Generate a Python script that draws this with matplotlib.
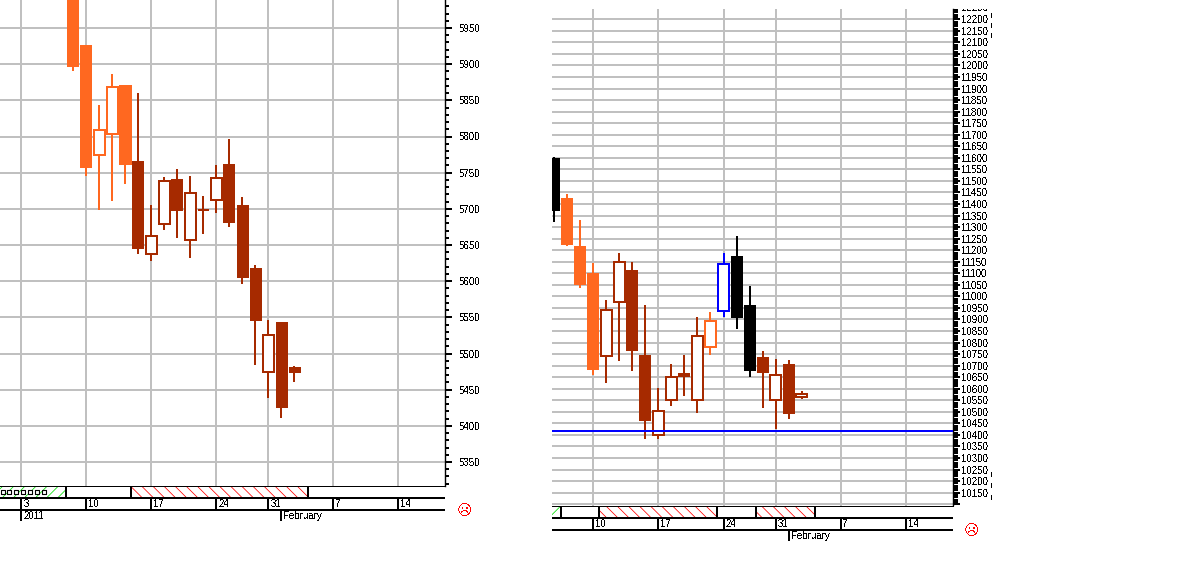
import matplotlib
matplotlib.use("Agg")
import matplotlib.pyplot as plt
from matplotlib.lines import Line2D
from matplotlib.transforms import Bbox

W, H = 1200, 575
PX = 0.72  # points per pixel at dpi 100

# ---------- data ----------
idx_a = list(range(4, 22))
open_a  = [6000, 5926, 5774, 5804, 5871, 5766, 5638, 5679, 5741, 5657, 5699, 5712, 5762, 5705, 5618, 5475, 5544, 5481]
high_a  = [6010, 5926, 5844, 5886, 5871, 5860, 5705, 5744, 5755, 5745, 5718, 5760, 5796, 5716, 5623, 5546, 5544, 5483]
low_a   = [5891, 5745, 5699, 5711, 5735, 5638, 5628, 5671, 5660, 5632, 5665, 5694, 5675, 5596, 5484, 5438, 5411, 5460]
close_a = [5896, 5757, 5809, 5869, 5761, 5645, 5663, 5739, 5697, 5722, 5699, 5743, 5681, 5605, 5545, 5525, 5424, 5473]
tone_a  = ["o"] * 5 + ["d"] * 13

idx_b = list(range(2, 22))
open_b  = [11598, 11426, 11218, 11101, 10740, 10974, 11114, 10746, 10400, 10551, 10667, 10551, 10779, 10937, 11175, 10963, 10737, 10551, 10707, 10563]
high_b  = [11605, 11443, 11331, 11145, 10984, 11188, 11149, 10963, 10602, 10706, 10746, 10912, 10931, 11188, 11263, 11045, 10763, 10727, 10724, 10590]
low_b   = [11324, 11218, 11038, 10660, 10625, 10720, 10678, 10382, 10382, 10527, 10569, 10496, 10748, 10912, 10860, 10652, 10518, 10427, 10469, 10556]
close_b = [11371, 11223, 11049, 10681, 10942, 11150, 10765, 10460, 10505, 10652, 10652, 10830, 10895, 11140, 10908, 10678, 10668, 10661, 10491, 10579]
tone_b  = ["k", "o", "o", "o", "d", "d", "d", "d", "d", "d", "d", "d", "o", "b", "k", "k", "d", "d", "d", "d"]

week_pos = [0, 5, 10, 15, 19, 24, 29]
week_labels = ["3", "10", "17", "24", "31", "7", "14"]
year_pos, year_label = 0, "2011"
month_pos, month_label = 20, "February"

green_a = [(-2, 3.42)]
red_a = [(8.42, 22.04)]
box_a = [3.42, 8.42, 22.04]
squares_a = [-1.45, -0.94, -0.42, 0.14, 0.65, 1.17, 1.73]

green_b = [(1.5, 2.5)]
red_b = [(5.44, 14.5), (17.5, 22.05)]
box_b = [2.5, 5.44, 14.5, 17.5, 22.05]

level_b = 10418

# ---------- style ----------
TONE = {"o": "#FF6820", "d": "#A62A00", "b": "#0000FF", "k": "#000000"}
GRID = "#C0C0C0"
plt.rcParams["font.family"] = ["Liberation Sans", "DejaVu Sans"]
plt.rcParams["font.size"] = 7
plt.rcParams["text.antialiased"] = False
plt.rcParams["hatch.linewidth"] = 0.55

fig = plt.figure(figsize=(W / 100, H / 100), dpi=100, facecolor="white")


def axes_px(l, t, r, b):
    return fig.add_axes([l / W, 1 - b / H, (r - l) / W, (b - t) / H])


def candles(ax, xs, o, h, l, c, tones):
    for i, (x, op, hi, lo, cl, t) in enumerate(zip(xs, o, h, l, c, tones)):
        col = TONE[t]
        z = 3 + i * 0.01
        ax.vlines(x, lo, hi, color=col, lw=1.7 * PX, zorder=z, antialiased=False)
        if cl < op:
            ax.bar(x, op - cl, bottom=cl, width=12 / 13, color=col, lw=0,
                   zorder=z + 0.001, antialiased=False)
        else:
            ax.bar(x, cl - op, bottom=op, width=10.5 / 13, facecolor="white", edgecolor=col,
                   lw=1.6 * PX, zorder=z + 0.001, antialiased=False)


def price_panel(ax, major, minor, labels, mlen, mnlen, mw, pad):
    ax.set_facecolor("white")
    for s in ("top", "left", "bottom"):
        ax.spines[s].set_visible(False)
    ax.spines["right"].set_linewidth(1.4 * PX)
    ax.set_axisbelow(True)
    ax.yaxis.tick_right()
    ax.set_yticks(major)
    ax.set_yticklabels(labels)
    ax.set_yticks(minor, minor=True)
    ax.set_xticks(week_pos)
    ax.set_xticklabels([])
    ax.tick_params(axis="x", length=0)
    ax.tick_params(axis="y", which="major", length=mlen * PX, width=2 * PX, pad=pad * PX, labelsize=7)
    ax.tick_params(axis="y", which="minor", length=mnlen * PX, width=mw * PX)
    ax.grid(True, which="major", color=GRID, lw=2 * PX, antialiased=False)


def strip_panel(ax, xlim, green, red, boxes):
    ax.axis("off")
    for a, b in green:
        ax.bar(a, 1, bottom=2, width=b - a, align="edge", fill=False, hatch="///",
               edgecolor="#00E000", lw=0)
    for a, b in red:
        ax.bar(a, 1, bottom=2, width=b - a, align="edge", fill=False, hatch="\\\\\\",
               edgecolor="#FF0000", lw=0)
    ax.vlines(boxes, 2, 3, color="black", lw=2 * PX, antialiased=False)
    ax.hlines(3, *xlim, color="black", lw=1 * PX, antialiased=False, clip_on=False)
    ax.hlines([1, 2], *xlim, color="black", lw=1.6 * PX, antialiased=False)
    for x, lab in zip(week_pos, week_labels):
        if xlim[0] < x < xlim[1]:
            ax.vlines(x, 1, 2, color="black", lw=2 * PX, antialiased=False)
            ax.annotate(lab, (x, 1.5), xytext=(1.6, 0), textcoords="offset points",
                        va="center", ha="left", fontsize=7)
    for x, lab in ((year_pos, year_label), (month_pos, month_label)):
        if xlim[0] < x < xlim[1]:
            ax.vlines(x, 0.1, 1, color="black", lw=2 * PX, antialiased=False)
            ax.annotate(lab, (x, 0.5), xytext=(1.6, 0), textcoords="offset points",
                        va="center", ha="left", fontsize=7)
    ax.set_xlim(*xlim)
    ax.set_ylim(0, 3)


# ---------- left panel ----------
ka = 434 / 600
xlim_a = (-21.5 / 13, (445 - 21.5) / 13)
ax_a = axes_px(0, 0, 445, 486)
major_a = list(range(5350, 6000, 50))
minor_a = [v for v in range(5320, 5990, 10) if v % 50]
price_panel(ax_a, major_a, minor_a, [str(v) for v in major_a], 7, 3.6, 2, 7)
candles(ax_a, idx_a, open_a, high_a, low_a, close_a, tone_a)
ax_a.set_xlim(*xlim_a)
ax_a.set_ylim(5950 - 458 / ka, 5950 + 28 / ka)

st_a = axes_px(0, 485.5, 445, 522)
strip_panel(st_a, xlim_a, green_a, red_a, box_a)
st_a.scatter(squares_a, [2.5] * len(squares_a), marker="s", s=9, facecolor="white",
             edgecolor="black", lw=0.8, zorder=5)

# ---------- right panel ----------
kb = 0.2309
xlim_b = ((552 - 528.3) / 13, (952 - 528.3) / 13)
ax_b = axes_px(552, 9, 952.5, 505.5)
major_b = list(range(10100, 12250, 50))
minor_b = [v for v in range(10100, 12250, 10) if v % 50]
labels_b = [str(v) if v >= 10150 else "" for v in major_b]
price_panel(ax_b, major_b, minor_b, labels_b, 6.5, 4.5, 2, 2.5)
candles(ax_b, idx_b, open_b, high_b, low_b, close_b, tone_b)
ax_b.axhline(level_b, color="#0000FF", lw=2 * PX, zorder=4, antialiased=False)
ax_b.set_xlim(*xlim_b)
ax_b.set_ylim(12200 - 486.2 / kb, 12200 + 10.3 / kb)
# top scale label is cut off by the chart's upper edge
clip = Bbox.from_extents(900, H - 506, 1000, H - 9)
top_label = ax_b.annotate("12250", (1, 12250), xycoords=ax_b.get_yaxis_transform(),
                          xytext=(9 * PX, 0), textcoords="offset points", va="center", ha="left",
                          fontsize=7, annotation_clip=False)
top_label.set_clip_box(clip)
top_label.set_clip_on(True)

st_b = axes_px(552, 506, 952.5, 542.5)
strip_panel(st_b, xlim_b, green_b, red_b, box_b)

# stray screen marks right of the scale
for y0 in (13, 23, 33, 472, 483, 495):
    fig.add_artist(Line2D([990.5 / W, 990.5 / W], [1 - y0 / H, 1 - (y0 + 3.5) / H], color="black",
                          lw=1 * PX, antialiased=False))

# ---------- status icons ----------
for xp, yp in ((464, 510), (971, 531)):
    fig.text(xp / W, 1 - yp / H, "\u2639", color="#FF0000", fontsize=10.5, ha="center", va="center",
             family="DejaVu Sans")

fig.savefig("out.png", dpi=100, facecolor="white")
